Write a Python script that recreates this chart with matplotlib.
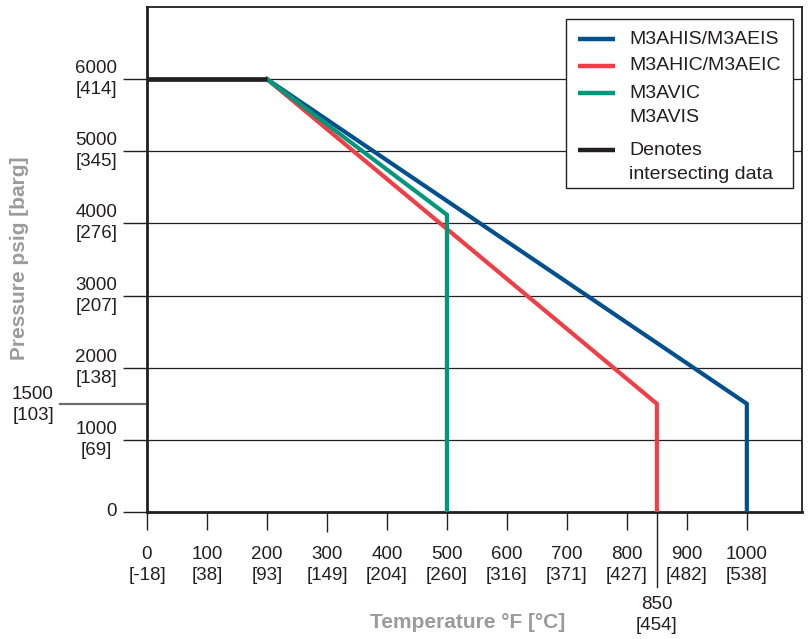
import numpy as np
import matplotlib.pyplot as plt
from matplotlib.patches import Rectangle

plt.rcParams['font.family'] = ['Liberation Sans', 'DejaVu Sans']

# pressure / temperature ratings (psig vs deg F)
his_temp = [200, 1000, 1000]
his_press = [6000, 1500, 0]
hic_temp = [200, 850, 850]
hic_press = [6000, 1500, 0]
vic_temp = [200, 500, 500]
vic_press = [6000, 4120, 0]
common_temp = [0, 200]
common_press = [6000, 6000]

x_ticks = [0, 100, 200, 300, 400, 500, 600, 700, 800, 900, 1000]
x_labels = ['0\n[-18]', '100\n[38]', '200\n[93]', '300\n[149]', '400\n[204]', '500\n[260]',
            '600\n[316]', '700\n[371]', '800\n[427]', '900\n[482]', '1000\n[538]']
y_ticks = [0, 1000, 2000, 3000, 4000, 5000, 6000]
y_labels = ['0', '1000\n[69]', '2000\n[138]', '3000\n[207]', '4000\n[276]', '5000\n[345]', '6000\n[414]']

legend_names = ['M3AHIS/M3AEIS', 'M3AHIC/M3AEIC', 'M3AVIC\nM3AVIS', 'Denotes\nintersecting data']

blue = '#00508f'
red = '#ef3e45'
green = '#00977a'
dark = '#231f20'
grey = '#9b9b9b'

fig = plt.figure(figsize=(8.1, 6.39), dpi=100)
ax = fig.add_axes([147/810, 127/639, 655/810, 505/639])

ax.set_xlim(0, 1092)
ax.set_ylim(0, 7000)

# horizontal grid lines
for y in y_ticks[1:]:
    ax.axhline(y, color=dark, lw=0.9, zorder=1)

ax.plot(his_temp, his_press, color=blue, lw=3, zorder=3, solid_joinstyle='miter')
ax.plot(hic_temp, hic_press, color=red, lw=3, zorder=3, solid_joinstyle='miter')
ax.plot(vic_temp, vic_press, color=green, lw=3, zorder=4, solid_joinstyle='miter')
ax.plot(common_temp, common_press, color=dark, lw=3.4, zorder=5, solid_capstyle='butt')

for side in ['left', 'bottom']:
    ax.spines[side].set_linewidth(2)
    ax.spines[side].set_color(dark)
for side in ['top', 'right']:
    ax.spines[side].set_linewidth(1.3)
    ax.spines[side].set_color(dark)

fs = 13.5
ax.set_xticks(x_ticks)
ax.set_xticklabels(x_labels, fontsize=fs, color=dark, linespacing=1.3)
ax.set_yticks(y_ticks)
ax.set_yticklabels(y_labels, fontsize=fs, color=dark, linespacing=1.3, ha='right',
                   multialignment='center')
ax.tick_params(axis='x', length=13, width=1, color=dark, pad=11.5)
ax.tick_params(axis='y', length=17.5, width=1, color=dark, pad=4)
for lbl in ax.get_xticklabels():
    lbl.set_multialignment('center')
for lbl in ax.get_yticklabels():
    lbl.set_verticalalignment('center')
t300 = ax.xaxis.get_major_ticks()[3]
t300.tick1line.set_markersize(14.5)

# 850 marker below the axis
ax.plot([850, 850], [0, -1040], color=dark, lw=1, clip_on=False)
ax.text(850, -1430, '850\n[454]', ha='center', va='center', fontsize=fs, color=dark,
        linespacing=1.3, multialignment='center')

# 1500 marker left of the axis
ax.plot([-145, -4], [1500, 1500], color='#6d6e71', lw=1.6, clip_on=False)
ax.text(-190, 1480, '1500\n[103]', ha='center', va='center', fontsize=fs, color=dark,
        linespacing=1.3, multialignment='center')

fig.text(20/810, 1 - 258/639, 'Pressure psig [barg]', rotation=90, ha='center', va='center',
         fontsize=15, fontweight='bold', color=grey)
fig.text(468/810, 1 - 623/639, 'Temperature °F [°C]', ha='center', va='center',
         fontsize=15, fontweight='bold', color=grey)

# legend box, drawn by hand so handles sit on the first text line
def px(x, y):
    return ((x - 147) / 655, (512 - y) / 505)

x0, y0 = px(566, 188)
x1, y1 = px(793, 19)
ax.add_patch(Rectangle((x0, y0), x1 - x0, y1 - y0, transform=ax.transAxes,
                       facecolor='white', edgecolor=dark, lw=1, zorder=10))
handle_y = [39, 66, 93, 150]
text_y = [39, 66, 105.5, 162.5]
handle_col = [blue, red, green, dark]
for hy, ty, c, name in zip(handle_y, text_y, handle_col, legend_names):
    a = px(578, hy)
    b = px(615, hy)
    ax.plot([a[0], b[0]], [a[1], b[1]], color=c, lw=3.2, transform=ax.transAxes,
            zorder=11, solid_capstyle='butt')
    tx = px(629, ty)
    ax.text(tx[0], tx[1], name, transform=ax.transAxes, ha='left', va='center',
            fontsize=14, color=dark, linespacing=1.6, zorder=12)

plt.savefig('out.png', dpi=100)
